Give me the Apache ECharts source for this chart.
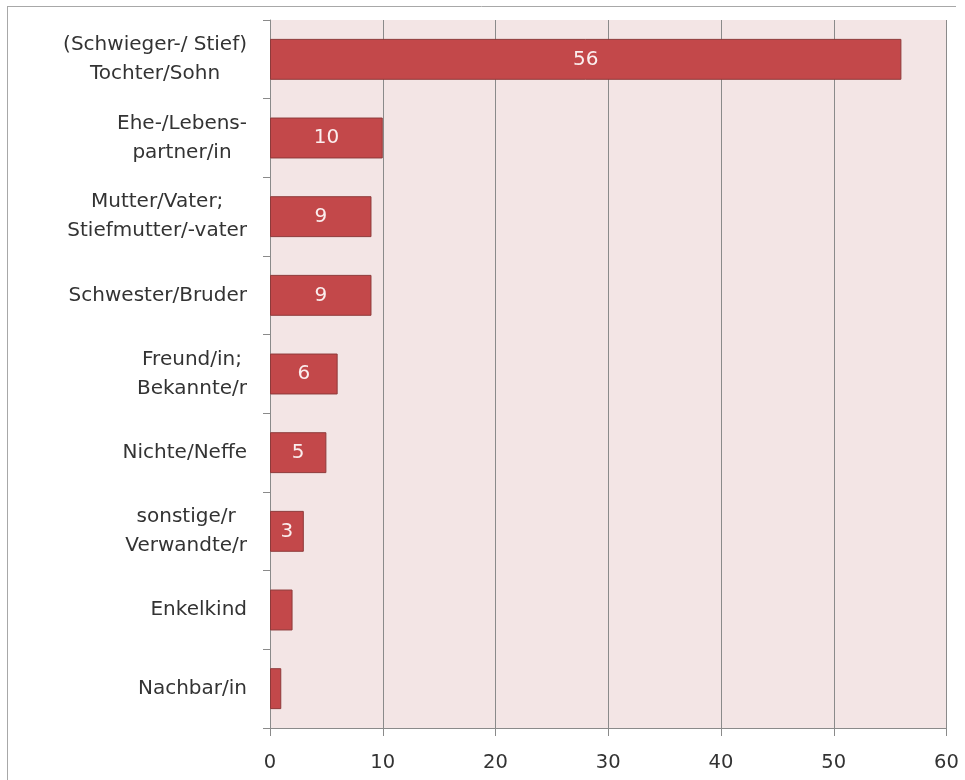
<!DOCTYPE html>
<html><head><meta charset="utf-8">
<script src="https://cdn.jsdelivr.net/npm/echarts@6/dist/echarts.min.js"></script>
<style>html,body{margin:0;padding:0;background:#fff}#c{width:965px;height:780px}</style>
</head><body><div id="c"></div>
<script>
const categories = [
  "(Schwieger-/ Stief)\nTochter/Sohn",
  "Ehe-/Lebens-\npartner/in",
  "Mutter/Vater;\nStiefmutter/-vater",
  "Schwester/Bruder",
  "Freund/in;\nBekannte/r",
  "Nichte/Neffe",
  "sonstige/r\nVerwandte/r",
  "Enkelkind",
  "Nachbar/in"
];
const values = [56, 10, 9, 9, 6, 5, 3, 2, 1];
const xTicks = [0, 10, 20, 30, 40, 50, 60];

const chart = echarts.init(document.getElementById('c'));
const font = "'DejaVu Sans', sans-serif";
chart.setOption({
  animation: false,
  graphic: [
    {type: 'line', shape: {x1: 7, y1: 6.5, x2: 956, y2: 6.5}, style: {stroke: '#a8a8a8', lineWidth: 1}},
    {type: 'line', shape: {x1: 7.5, y1: 6, x2: 7.5, y2: 780}, style: {stroke: '#a8a8a8', lineWidth: 1}}
  ],
  grid: {left: 270, right: 18.5, top: 20, bottom: 52, show: true,
         backgroundColor: '#f3e5e5', borderWidth: 0},
  xAxis: {
    type: 'value', min: xTicks[0], max: xTicks[xTicks.length - 1], interval: 10,
    axisLine: {show: true, lineStyle: {color: '#8a8a8a', width: 1}},
    axisTick: {show: true, length: 8, lineStyle: {color: '#8a8a8a'}},
    splitLine: {show: true, lineStyle: {color: '#8a8a8a', width: 1}},
    axisLabel: {color: '#333', fontSize: 19.5, fontFamily: font, margin: 25}
  },
  yAxis: {
    type: 'category', data: categories, inverse: true,
    axisLine: {show: true, lineStyle: {color: '#8a8a8a', width: 1}},
    axisTick: {show: true, length: 7, lineStyle: {color: '#8a8a8a'}},
    axisLabel: {color: '#333', fontSize: 20, fontFamily: font, margin: 23,
                lineHeight: 29, align: 'right',
                formatter: v => v.split('\n').map(s => '{c|' + s + '}').join('\n'),
                rich: {c: {align: 'center', color: '#333', fontSize: 20, fontFamily: font, lineHeight: 29}}}
  },
  series: [{
    type: 'bar', data: values, barWidth: '52%',
    itemStyle: {color: '#c3484a', borderColor: '#8e3a3a', borderWidth: 1},
    label: {show: true, position: 'inside', color: '#fbeeee', fontSize: 20, fontFamily: font,
            formatter: p => p.value >= 3 ? String(p.value) : ''}
  }]
});
</script></body></html>
